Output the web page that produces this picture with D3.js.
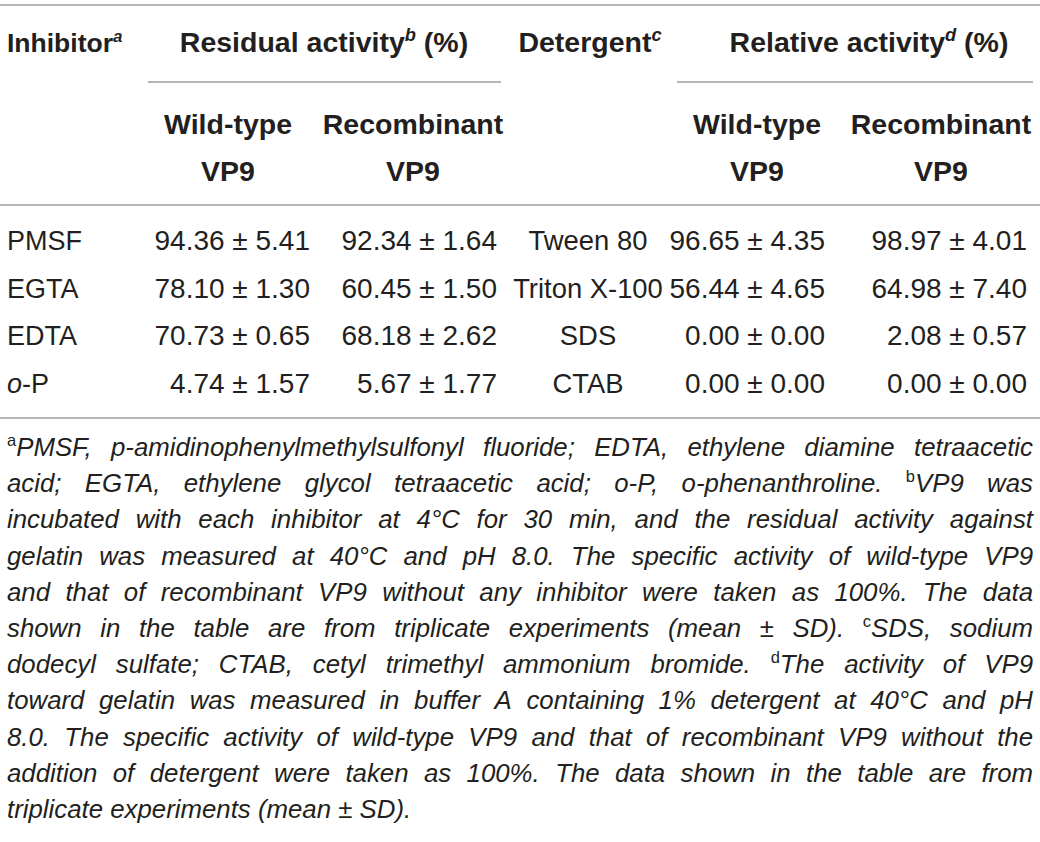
<!DOCTYPE html>
<html><head><meta charset="utf-8">
<script src="https://cdn.jsdelivr.net/npm/d3@7"></script>
<style>body{margin:0;background:#fff} svg{display:block}</style>
</head><body>
<script>
// ---- data ----
const inhibitors = ["PMSF", "EGTA", "EDTA", "o-P"];
const residualWildMean = [94.36, 78.10, 70.73, 4.74];
const residualWildSD   = [5.41, 1.30, 0.65, 1.57];
const residualRecMean  = [92.34, 60.45, 68.18, 5.67];
const residualRecSD    = [1.64, 1.50, 2.62, 1.77];
const detergents = ["Tween 80", "Triton X-100", "SDS", "CTAB"];
const relativeWildMean = [96.65, 56.44, 0.00, 0.00];
const relativeWildSD   = [4.35, 4.65, 0.00, 0.00];
const relativeRecMean  = [98.97, 64.98, 2.08, 0.00];
const relativeRecSD    = [4.01, 7.40, 0.57, 0.00];
const footnoteLines = [
  "{a}PMSF, p-amidinophenylmethylsulfonyl fluoride; EDTA, ethylene diamine tetraacetic",
  "acid; EGTA, ethylene glycol tetraacetic acid; o-P, o-phenanthroline. {b}VP9 was",
  "incubated with each inhibitor at 4°C for 30 min, and the residual activity against",
  "gelatin was measured at 40°C and pH 8.0. The specific activity of wild-type VP9",
  "and that of recombinant VP9 without any inhibitor were taken as 100%. The data",
  "shown in the table are from triplicate experiments (mean ± SD). {c}SDS, sodium",
  "dodecyl sulfate; CTAB, cetyl trimethyl ammonium bromide. {d}The activity of VP9",
  "toward gelatin was measured in buffer A containing 1% detergent at 40°C and pH",
  "8.0. The specific activity of wild-type VP9 and that of recombinant VP9 without the",
  "addition of detergent were taken as 100%. The data shown in the table are from",
  "triplicate experiments (mean ± SD)."
];

// ---- drawing ----
const W = 1040, H = 842;
const FONT = "'Liberation Sans', Arial, Helvetica, sans-serif";
const INK = "#231f20";
const RULE = "#9d9d9d";
const svg = d3.select("body").append("svg").attr("width", W).attr("height", H)
  .style("font-family", FONT).attr("fill", INK);

const fmt = d3.format(".2f");
const pm = (m, s) => fmt(m) + " \u00b1 " + fmt(s);

// column anchors
const colX = d3.scaleOrdinal()
  .domain(["inh", "rw", "rr", "det", "lw", "lr"])
  .range([7, 310, 497, 588, 825, 1027]);
const rowY = d3.scalePoint().domain(d3.range(inhibitors.length)).range([250, 393]);

function rich(g, segs, x, y, anchor, size, weight) {
  const t = g.append("text").attr("x", x).attr("y", y)
    .attr("text-anchor", anchor).attr("font-size", size).attr("font-weight", weight);
  let raised = false;
  segs.forEach(s => {
    const sp = t.append("tspan").text(s.t);
    if (s.it) sp.attr("font-style", "italic");
    if (s.sup) {
      sp.attr("font-size", size * 0.64);
      if (!raised) { sp.attr("dy", -size * 0.38); raised = true; }
    } else if (raised) { sp.attr("dy", size * 0.38); raised = false; }
  });
  return t;
}

// rules
const rule = (x1, x2, y) => svg.append("line").attr("x1", x1).attr("x2", x2)
  .attr("y1", y).attr("y2", y).attr("stroke", RULE).attr("stroke-width", 1.6);
rule(0, 1040, 5);
rule(148, 501, 82);
rule(677, 1033, 82);
rule(0, 1040, 205);
rule(0, 1040, 418);

// headers
const HS = 28.5;
const hg = svg.append("g");
rich(hg, [{t: "Inhibitor"}, {t: "a", sup: true, it: true}], 7, 52, "start", 26.5, "bold");
rich(hg, [{t: "Residual activity"}, {t: "b", sup: true, it: true}, {t: " (%)"}], 324, 52, "middle", HS, "bold");
rich(hg, [{t: "Detergent"}, {t: "c", sup: true, it: true}], 590, 52, "middle", HS, "bold");
rich(hg, [{t: "Relative activity"}, {t: "d", sup: true, it: true}, {t: " (%)"}], 869, 52, "middle", HS, "bold");
[[228, 413], [757, 941]].forEach(([a, b]) => {
  rich(hg, [{t: "Wild-type"}], a, 134, "middle", HS, "bold");
  rich(hg, [{t: "VP9"}], a, 181, "middle", HS, "bold");
  rich(hg, [{t: "Recombinant"}], b, 134, "middle", HS, "bold");
  rich(hg, [{t: "VP9"}], b, 181, "middle", HS, "bold");
});

// body rows
const BS = 27, NS = 28, DS = 27.4;
const bg = svg.append("g");
inhibitors.forEach((name, i) => {
  const y = rowY(i);
  const segs = name === "o-P" ? [{t: "o", it: true}, {t: "-P"}] : [{t: name}];
  rich(bg, segs, colX("inh"), y, "start", BS, "normal");
  rich(bg, [{t: pm(residualWildMean[i], residualWildSD[i])}], colX("rw"), y, "end", NS, "normal");
  rich(bg, [{t: pm(residualRecMean[i], residualRecSD[i])}], colX("rr"), y, "end", NS, "normal");
  rich(bg, [{t: detergents[i]}], colX("det"), y, "middle", DS, "normal");
  rich(bg, [{t: pm(relativeWildMean[i], relativeWildSD[i])}], colX("lw"), y, "end", NS, "normal");
  rich(bg, [{t: pm(relativeRecMean[i], relativeRecSD[i])}], colX("lr"), y, "end", NS, "normal");
});

// footnotes (justified)
const FS = 25.8;
const fy = d3.scaleLinear().domain([0, footnoteLines.length - 1]).range([456, 818]);
const left = 7, right = 1033;
const fg = svg.append("g");
footnoteLines.forEach((line, li) => {
  const words = line.split(" ");
  const nodes = words.map(w => {
    const segs = [];
    const re = /\{(\w)\}/g;
    let last = 0, m;
    while ((m = re.exec(w)) !== null) {
      if (m.index > last) segs.push({t: w.slice(last, m.index), it: true});
      segs.push({t: m[1], sup: true});
      last = re.lastIndex;
    }
    if (last < w.length) segs.push({t: w.slice(last), it: true});
    const t = rich(fg, segs, 0, fy(li), "start", FS, "normal");
    return {t, w: t.node().getComputedTextLength()};
  });
  const total = d3.sum(nodes, d => d.w);
  const justify = li < footnoteLines.length - 1;
  const gap = justify ? (right - left - total) / (nodes.length - 1) : FS * 0.278;
  let x = left;
  nodes.forEach(n => { n.t.attr("x", x); x += n.w + gap; });
});
</script>
</body></html>
